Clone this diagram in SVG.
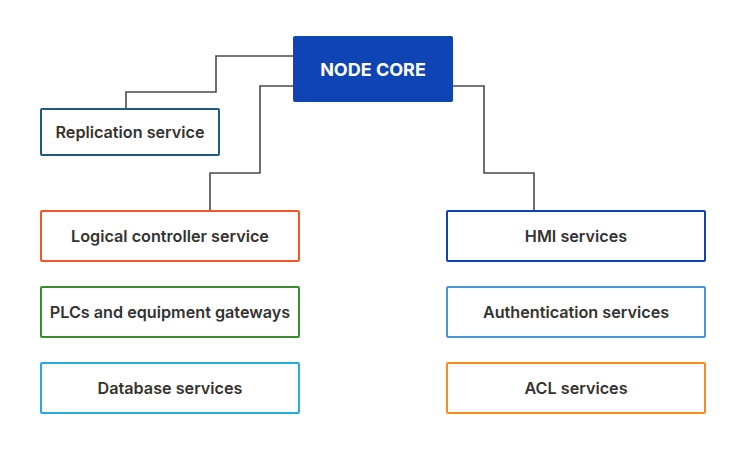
<svg xmlns="http://www.w3.org/2000/svg" width="746" height="454" viewBox="0 0 746 454">
<style>
.box{fill:#fff;stroke-width:2}
.lbl{font-family:Inter,"Liberation Sans",sans-serif;font-size:16.2px;font-weight:600;fill:#333;text-anchor:middle;dominant-baseline:central}
.core-lbl{font-family:Inter,"Liberation Sans",sans-serif;font-size:18px;font-weight:700;fill:#fff;text-anchor:middle;dominant-baseline:central}
.conn{fill:none;stroke:#4a4a4a;stroke-width:1.6}
</style>
<rect width="746" height="454" fill="#fff"/>
<g id="connectors">
<path class="conn" d="M293 56H216V92H126V109"/>
<path class="conn" d="M293 86H260V173H210V211"/>
<path class="conn" d="M453 86H484V173H534V211"/>
</g>
<g id="core">
<rect x="293" y="36" width="160" height="66" rx="2" fill="#0e44b4"/>
<text class="core-lbl" x="373" y="69">NODE CORE</text>
</g>
<g id="replication">
<rect class="box" x="41" y="109" width="178" height="46" rx="1" stroke="#1f5a80"/>
<text class="lbl" x="130" y="132">Replication service</text>
</g>
<g id="logical">
<rect class="box" x="41" y="211" width="258" height="50" rx="1" stroke="#f4562a"/>
<text class="lbl" x="170" y="236">Logical controller service</text>
</g>
<g id="plcs">
<rect class="box" x="41" y="287" width="258" height="50" rx="1" stroke="#3a8c2f"/>
<text class="lbl" x="170" y="312">PLCs and equipment gateways</text>
</g>
<g id="database">
<rect class="box" x="41" y="363" width="258" height="50" rx="1" stroke="#2aaae2"/>
<text class="lbl" x="170" y="388">Database services</text>
</g>
<g id="hmi">
<rect class="box" x="447" y="211" width="258" height="50" rx="1" stroke="#0e44b4"/>
<text class="lbl" x="576" y="236">HMI services</text>
</g>
<g id="auth">
<rect class="box" x="447" y="287" width="258" height="50" rx="1" stroke="#4a94d6"/>
<text class="lbl" x="576" y="312">Authentication services</text>
</g>
<g id="acl">
<rect class="box" x="447" y="363" width="258" height="50" rx="1" stroke="#f68b1f"/>
<text class="lbl" x="576" y="388">ACL services</text>
</g>
</svg>
